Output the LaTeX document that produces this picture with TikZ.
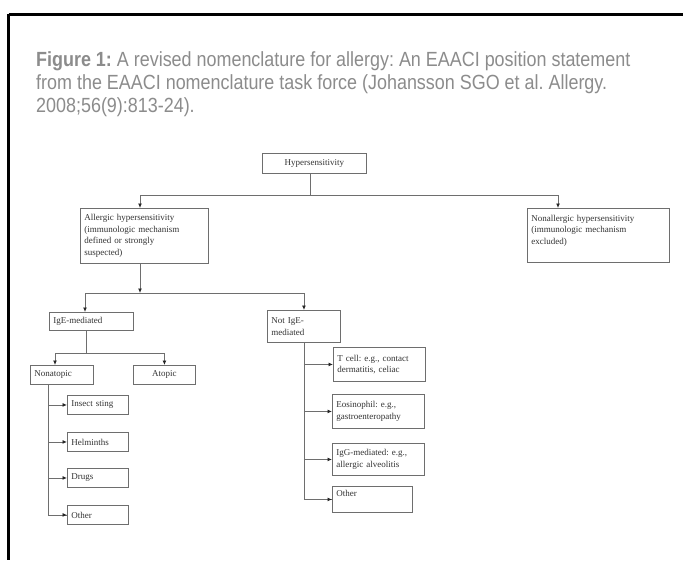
\documentclass[tikz,border=0pt]{standalone}
\usepackage{fontspec}
\usepackage{tikz}
\usetikzlibrary{arrows.meta}
\setmainfont{Liberation Serif}
\newfontfamily\legende[FakeStretch=0.875]{Liberation Sans}
\frenchspacing
\definecolor{gristexte}{HTML}{8C8C8C}
\definecolor{griscadre}{HTML}{6E6E6E}
\tikzset{
Boite/.style={
 draw=griscadre,
 line width=0.9pt,
 rectangle,
 anchor=north west,
 align=left,
 inner xsep=4pt,
 inner ysep=0pt,
 text=black!80,
 font=\fontsize{9}{11.5}\selectfont
 },
Fleche/.style={
 draw=griscadre,
 line width=0.9pt,
 -{Latex[length=4.5pt,width=4pt,color=black!85]}
 },
Trait/.style={
 draw=griscadre,
 line width=0.9pt
 }
}
\begin{document}
\begin{tikzpicture}[x=1pt,y=-1pt]
\useasboundingbox (0,0) rectangle (683,560);
\fill[white] (0,0) rectangle (683,560);
% cadre
\draw[line width=3pt] (8.5,14) -- (683,14);
\draw[line width=3pt] (8.5,14) -- (8.5,560);
% legende
\node[anchor=north west,align=left,text=gristexte,inner sep=0pt,
 font=\legende\fontsize{20.5}{23}\selectfont] (titre) at (36,51)
 {\textbf{Figure 1:} A revised nomenclature for allergy: An EAACI position statement\\
 from the EAACI nomenclature task force (Johansson SGO et al. Allergy.\\
 2008;56(9):813-24).};
% boites
\node[Boite,align=center,text width=96pt,minimum height=20pt] (hyper) at (262,153) {Hypersensitivity};
\node[Boite,text width=120pt,minimum height=55pt] (allerg) at (80,208)
 {Allergic hypersensitivity\\(immunologic mechanism\\defined or strongly\\ suspected)};
\node[Boite,text width=134pt,minimum height=54pt] (nonall) at (527,208)
 {Nonallergic hypersensitivity\\(immunologic mechanism\\excluded)\\\mbox{}};
\node[Boite,text width=76pt,minimum height=18pt] (ige) at (49,312) {IgE-mediated};
\node[Boite,text width=65pt,minimum height=32pt] (nonige) at (267,310) {Not IgE-\\mediated};
\node[Boite,text width=55pt,minimum height=19pt] (nonatop) at (30,365) {Nonatopic};
\node[Boite,align=center,text width=54pt,minimum height=19pt] (atop) at (133,365) {Atopic};
\node[Boite,text width=53pt,minimum height=19pt] (piqure) at (67,395) {Insect sting};
\node[Boite,text width=53pt,minimum height=19pt] (helmi) at (67,432) {Helminths};
\node[Boite,text width=53pt,minimum height=19pt] (medoc) at (67,468) {Drugs};
\node[Boite,text width=53pt,minimum height=19pt] (autreA) at (67,505) {Other};
\node[Boite,text width=84pt,minimum height=34pt] (tcell) at (333,347) {T cell: e.g., contact\\dermatitis, celiac};
\node[Boite,text width=84pt,minimum height=34pt] (eosino) at (332,394) {Eosinophil: e.g.,\\gastroenteropathy};
\node[Boite,text width=84pt,minimum height=32pt] (igg) at (332,443) {IgG-mediated: e.g.,\\allergic alveolitis};
\node[Boite,text width=72pt,minimum height=26pt] (autreB) at (332,486) {Other\\\mbox{}};
% liaisons
\coordinate (j1) at (310,195);
\coordinate (j2) at (140,293);
\coordinate (j3) at (86,353);
\draw[Trait] (hyper.south -| j1) -- (j1);
\draw[Fleche] (j1) -| ([xshift=60]allerg.north west);
\draw[Fleche] (j1) -| ([xshift=31]nonall.north west);
\draw[Fleche] ([xshift=60]allerg.south west) -- (j2);
\draw[Fleche] (j2) -| ([xshift=36]ige.north west);
\draw[Fleche] (j2) -| (nonige.north);
\draw[Trait] (ige.south -| j3) -- (j3);
\draw[Fleche] (j3) -| ([xshift=25]nonatop.north west);
\draw[Fleche] (j3) -| (atop.north);
% branches nonatopique
\draw[Trait] ([xshift=18]nonatop.south west) |- (autreA.west);
\foreach \b in {piqure,helmi,medoc,autreA}
 \draw[Fleche] (\b.west -| nonatop.south west) ++(18,0) -- (\b.west);
% branches non IgE
\draw[Trait] (nonige.south) |- (autreB.west);
\foreach \b in {tcell,eosino,igg,autreB}
 \draw[Fleche] (\b.west -| nonige.south) -- (\b.west);
\end{tikzpicture}
\end{document}
